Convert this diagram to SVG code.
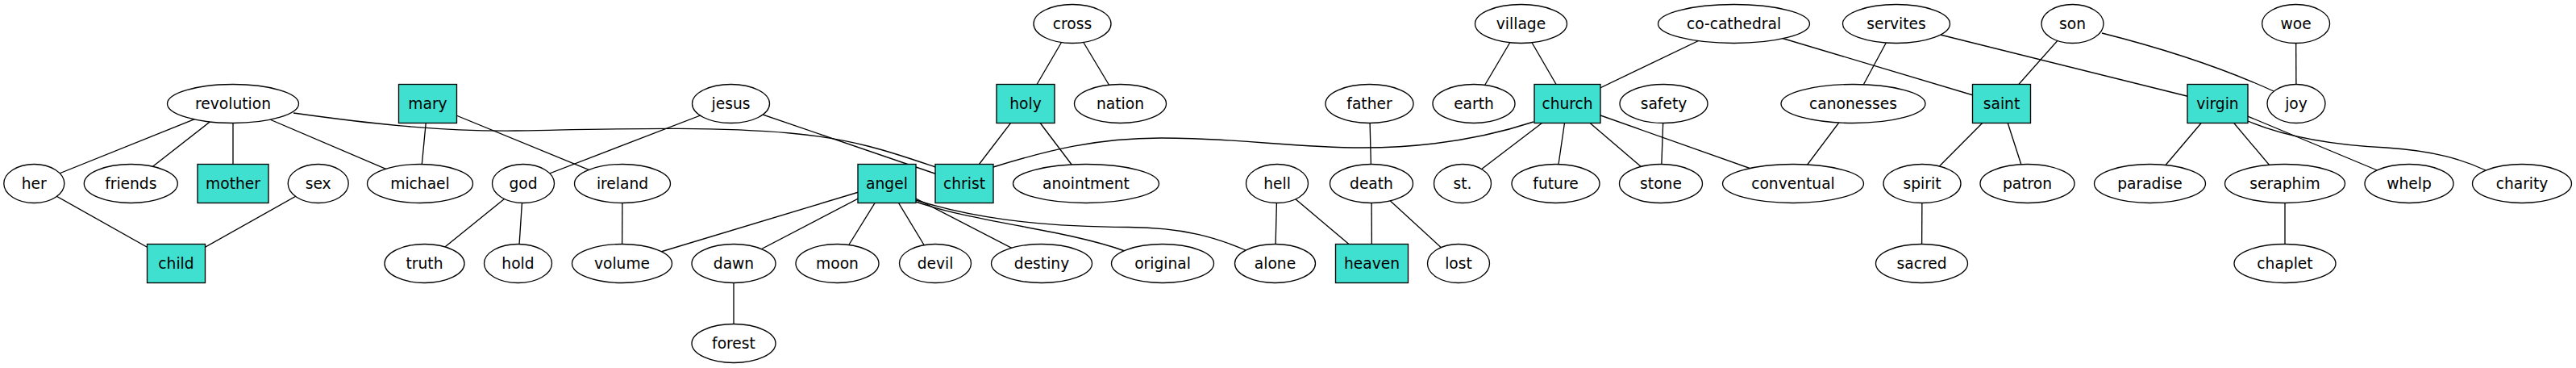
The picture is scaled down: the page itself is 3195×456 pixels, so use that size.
<svg xmlns="http://www.w3.org/2000/svg" width="3195" height="456" viewBox="0 0 3195 456">
<style>
.e line,.e path{stroke:#000;stroke-width:1.33;fill:none}
.n ellipse{fill:#fff;stroke:#000;stroke-width:1.33}
.n rect{fill:#40e0d0;stroke:#000;stroke-width:1.33}
text{font-family:"DejaVu Sans","Liberation Sans",sans-serif;font-size:18.67px;text-anchor:middle;fill:#000}
</style>
<rect width="3195" height="456" fill="#fff"/>
<g id="edges" class="e">
<line x1="289" y1="128.5" x2="42.3" y2="227.5"/>
<line x1="289" y1="128.5" x2="162.3" y2="227.5"/>
<line x1="289" y1="128.5" x2="289" y2="227.5"/>
<line x1="289" y1="128.5" x2="521" y2="227.5"/>
<path d="M364,140 C450,152 540,163 640,162 C760,160 880,156 980,165 C1060,172 1110,190 1160,207"/>
<line x1="42.3" y1="227.5" x2="218.5" y2="326.5"/>
<line x1="394.7" y1="227.5" x2="218.5" y2="326.5"/>
<line x1="530.5" y1="128.5" x2="521" y2="227.5"/>
<line x1="530.5" y1="128.5" x2="772" y2="227.5"/>
<line x1="906.5" y1="128.5" x2="649" y2="227.5"/>
<line x1="906.5" y1="128.5" x2="1196" y2="227.5"/>
<line x1="649" y1="227.5" x2="526.5" y2="326.5"/>
<line x1="649" y1="227.5" x2="642.5" y2="326.5"/>
<line x1="772" y1="227.5" x2="771.5" y2="326.5"/>
<line x1="1100" y1="227.5" x2="771.5" y2="326.5"/>
<line x1="1100" y1="227.5" x2="910" y2="326.5"/>
<line x1="1100" y1="227.5" x2="1038.5" y2="326.5"/>
<line x1="1100" y1="227.5" x2="1160" y2="326.5"/>
<line x1="1100" y1="227.5" x2="1292" y2="326.5"/>
<path d="M1136,250 C1210,276 1320,284 1395,311"/>
<path d="M1136,248 C1200,268 1280,281 1400,281.5 C1470,282 1510,295 1545,310"/>
<line x1="910" y1="326.5" x2="910" y2="425.5"/>
<line x1="1330" y1="29.5" x2="1272" y2="128.5"/>
<line x1="1330" y1="29.5" x2="1389.5" y2="128.5"/>
<line x1="1272" y1="128.5" x2="1196" y2="227.5"/>
<line x1="1272" y1="128.5" x2="1347" y2="227.5"/>
<path d="M1232,207 C1300,186 1360,171 1440,171 C1540,171 1600,183 1690,183 C1780,183 1850,168 1902,151"/>
<line x1="1584" y1="227.5" x2="1581.5" y2="326.5"/>
<line x1="1584" y1="227.5" x2="1701.5" y2="326.5"/>
<line x1="1698.5" y1="128.5" x2="1701" y2="227.5"/>
<line x1="1701" y1="227.5" x2="1701.5" y2="326.5"/>
<line x1="1701" y1="227.5" x2="1809" y2="326.5"/>
<line x1="1886.5" y1="29.5" x2="1828" y2="128.5"/>
<line x1="1886.5" y1="29.5" x2="1944" y2="128.5"/>
<line x1="2150.5" y1="29.5" x2="1944" y2="128.5"/>
<line x1="1944" y1="128.5" x2="1814" y2="227.5"/>
<line x1="1944" y1="128.5" x2="1929.5" y2="227.5"/>
<line x1="1944" y1="128.5" x2="2060" y2="227.5"/>
<line x1="1944" y1="128.5" x2="2224" y2="227.5"/>
<line x1="2063.5" y1="128.5" x2="2060" y2="227.5"/>
<line x1="2150.5" y1="29.5" x2="2482.5" y2="128.5"/>
<line x1="2352" y1="29.5" x2="2298.5" y2="128.5"/>
<line x1="2352" y1="29.5" x2="2750.5" y2="128.5"/>
<line x1="2298.5" y1="128.5" x2="2224" y2="227.5"/>
<line x1="2570.5" y1="29.5" x2="2482.5" y2="128.5"/>
<path d="M2607,41 Q2730,72 2820,113"/>
<line x1="2482.5" y1="128.5" x2="2384" y2="227.5"/>
<line x1="2482.5" y1="128.5" x2="2514.5" y2="227.5"/>
<line x1="2384" y1="227.5" x2="2383.5" y2="326.5"/>
<line x1="2847.6" y1="29.5" x2="2848" y2="128.5"/>
<line x1="2750.5" y1="128.5" x2="2666.5" y2="227.5"/>
<line x1="2750.5" y1="128.5" x2="2834" y2="227.5"/>
<line x1="2750.5" y1="128.5" x2="2988" y2="227.5"/>
<path d="M2788,150 C2840,172 2900,180 2960,183 C3020,187 3055,198 3083,211"/>
<line x1="2834" y1="227.5" x2="2834" y2="326.5"/>
</g>
<g class="n">
<g id="cross"><ellipse cx="1330" cy="29.5" rx="48" ry="24"/><text x="1330" y="35.5">cross</text></g>
<g id="village"><ellipse cx="1886.5" cy="29.5" rx="57" ry="24"/><text x="1886.5" y="35.5">village</text></g>
<g id="co-cathedral"><ellipse cx="2150.5" cy="29.5" rx="94" ry="24"/><text x="2150.5" y="35.5">co-cathedral</text></g>
<g id="servites"><ellipse cx="2352" cy="29.5" rx="66.5" ry="24"/><text x="2352" y="35.5">servites</text></g>
<g id="son"><ellipse cx="2570.5" cy="29.5" rx="38.5" ry="24"/><text x="2570.5" y="35.5">son</text></g>
<g id="woe"><ellipse cx="2847.6" cy="29.5" rx="42" ry="24"/><text x="2847.6" y="35.5">woe</text></g>

<g id="revolution"><ellipse cx="289" cy="128.5" rx="81.5" ry="24"/><text x="289" y="134.5">revolution</text></g>
<g id="mary"><rect x="494.5" y="104.5" width="72" height="48"/><text x="530.5" y="134.5">mary</text></g>
<g id="jesus"><ellipse cx="906.5" cy="128.5" rx="48" ry="24"/><text x="906.5" y="134.5">jesus</text></g>
<g id="holy"><rect x="1236" y="104.5" width="72" height="48"/><text x="1272" y="134.5">holy</text></g>
<g id="nation"><ellipse cx="1389.5" cy="128.5" rx="57" ry="24"/><text x="1389.5" y="134.5">nation</text></g>
<g id="father"><ellipse cx="1698.5" cy="128.5" rx="54.5" ry="24"/><text x="1698.5" y="134.5">father</text></g>
<g id="earth"><ellipse cx="1828" cy="128.5" rx="51" ry="24"/><text x="1828" y="134.5">earth</text></g>
<g id="church"><rect x="1903" y="104.5" width="82" height="48"/><text x="1944" y="134.5">church</text></g>
<g id="safety"><ellipse cx="2063.5" cy="128.5" rx="54.5" ry="24"/><text x="2063.5" y="134.5">safety</text></g>
<g id="canonesses"><ellipse cx="2298.5" cy="128.5" rx="89.5" ry="24"/><text x="2298.5" y="134.5">canonesses</text></g>
<g id="saint"><rect x="2446.5" y="104.5" width="72" height="48"/><text x="2482.5" y="134.5">saint</text></g>
<g id="virgin"><rect x="2713" y="104.5" width="75" height="48"/><text x="2750.5" y="134.5">virgin</text></g>
<g id="joy"><ellipse cx="2848" cy="128.5" rx="36" ry="24"/><text x="2848" y="134.5">joy</text></g>

<g id="her"><ellipse cx="42.3" cy="227.5" rx="37.5" ry="24"/><text x="42.3" y="233.5">her</text></g>
<g id="friends"><ellipse cx="162.3" cy="227.5" rx="58" ry="24"/><text x="162.3" y="233.5">friends</text></g>
<g id="mother"><rect x="245" y="203.5" width="88" height="48"/><text x="289" y="233.5">mother</text></g>
<g id="sex"><ellipse cx="394.7" cy="227.5" rx="37.5" ry="24"/><text x="394.7" y="233.5">sex</text></g>
<g id="michael"><ellipse cx="521" cy="227.5" rx="65.5" ry="24"/><text x="521" y="233.5">michael</text></g>
<g id="god"><ellipse cx="649" cy="227.5" rx="38.5" ry="24"/><text x="649" y="233.5">god</text></g>
<g id="ireland"><ellipse cx="772" cy="227.5" rx="59.5" ry="24"/><text x="772" y="233.5">ireland</text></g>
<g id="angel"><rect x="1064" y="203.5" width="72" height="48"/><text x="1100" y="233.5">angel</text></g>
<g id="christ"><rect x="1160" y="203.5" width="72" height="48"/><text x="1196" y="233.5">christ</text></g>
<g id="anointment"><ellipse cx="1347" cy="227.5" rx="90.5" ry="24"/><text x="1347" y="233.5">anointment</text></g>
<g id="hell"><ellipse cx="1584" cy="227.5" rx="38.5" ry="24"/><text x="1584" y="233.5">hell</text></g>
<g id="death"><ellipse cx="1701" cy="227.5" rx="51.5" ry="24"/><text x="1701" y="233.5">death</text></g>
<g id="st."><ellipse cx="1814" cy="227.5" rx="35.5" ry="24"/><text x="1814" y="233.5">st.</text></g>
<g id="future"><ellipse cx="1929.5" cy="227.5" rx="54.5" ry="24"/><text x="1929.5" y="233.5">future</text></g>
<g id="stone"><ellipse cx="2060" cy="227.5" rx="51.5" ry="24"/><text x="2060" y="233.5">stone</text></g>
<g id="conventual"><ellipse cx="2224" cy="227.5" rx="87.5" ry="24"/><text x="2224" y="233.5">conventual</text></g>
<g id="spirit"><ellipse cx="2384" cy="227.5" rx="48" ry="24"/><text x="2384" y="233.5">spirit</text></g>
<g id="patron"><ellipse cx="2514.5" cy="227.5" rx="58.5" ry="24"/><text x="2514.5" y="233.5">patron</text></g>
<g id="paradise"><ellipse cx="2666.5" cy="227.5" rx="69" ry="24"/><text x="2666.5" y="233.5">paradise</text></g>
<g id="seraphim"><ellipse cx="2834" cy="227.5" rx="74.5" ry="24"/><text x="2834" y="233.5">seraphim</text></g>
<g id="whelp"><ellipse cx="2988" cy="227.5" rx="55" ry="24"/><text x="2988" y="233.5">whelp</text></g>
<g id="charity"><ellipse cx="3128" cy="227.5" rx="61.5" ry="24"/><text x="3128" y="233.5">charity</text></g>

<g id="child"><rect x="182.5" y="302.5" width="72" height="48"/><text x="218.5" y="332.5">child</text></g>
<g id="truth"><ellipse cx="526.5" cy="326.5" rx="49.5" ry="24"/><text x="526.5" y="332.5">truth</text></g>
<g id="hold"><ellipse cx="642.5" cy="326.5" rx="42" ry="24"/><text x="642.5" y="332.5">hold</text></g>
<g id="volume"><ellipse cx="771.5" cy="326.5" rx="62" ry="24"/><text x="771.5" y="332.5">volume</text></g>
<g id="dawn"><ellipse cx="910" cy="326.5" rx="52" ry="24"/><text x="910" y="332.5">dawn</text></g>
<g id="moon"><ellipse cx="1038.5" cy="326.5" rx="51.5" ry="24"/><text x="1038.5" y="332.5">moon</text></g>
<g id="devil"><ellipse cx="1160" cy="326.5" rx="44.5" ry="24"/><text x="1160" y="332.5">devil</text></g>
<g id="destiny"><ellipse cx="1292" cy="326.5" rx="62.5" ry="24"/><text x="1292" y="332.5">destiny</text></g>
<g id="original"><ellipse cx="1442" cy="326.5" rx="63.5" ry="24"/><text x="1442" y="332.5">original</text></g>
<g id="alone"><ellipse cx="1581.5" cy="326.5" rx="50" ry="24"/><text x="1581.5" y="332.5">alone</text></g>
<g id="heaven"><rect x="1656.5" y="302.5" width="90" height="48"/><text x="1701.5" y="332.5">heaven</text></g>
<g id="lost"><ellipse cx="1809" cy="326.5" rx="38.5" ry="24"/><text x="1809" y="332.5">lost</text></g>
<g id="sacred"><ellipse cx="2383.5" cy="326.5" rx="57" ry="24"/><text x="2383.5" y="332.5">sacred</text></g>
<g id="chaplet"><ellipse cx="2834" cy="326.5" rx="63" ry="24"/><text x="2834" y="332.5">chaplet</text></g>

<g id="forest"><ellipse cx="910" cy="425.5" rx="52" ry="24"/><text x="910" y="431.5">forest</text></g>
</g>
</svg>
